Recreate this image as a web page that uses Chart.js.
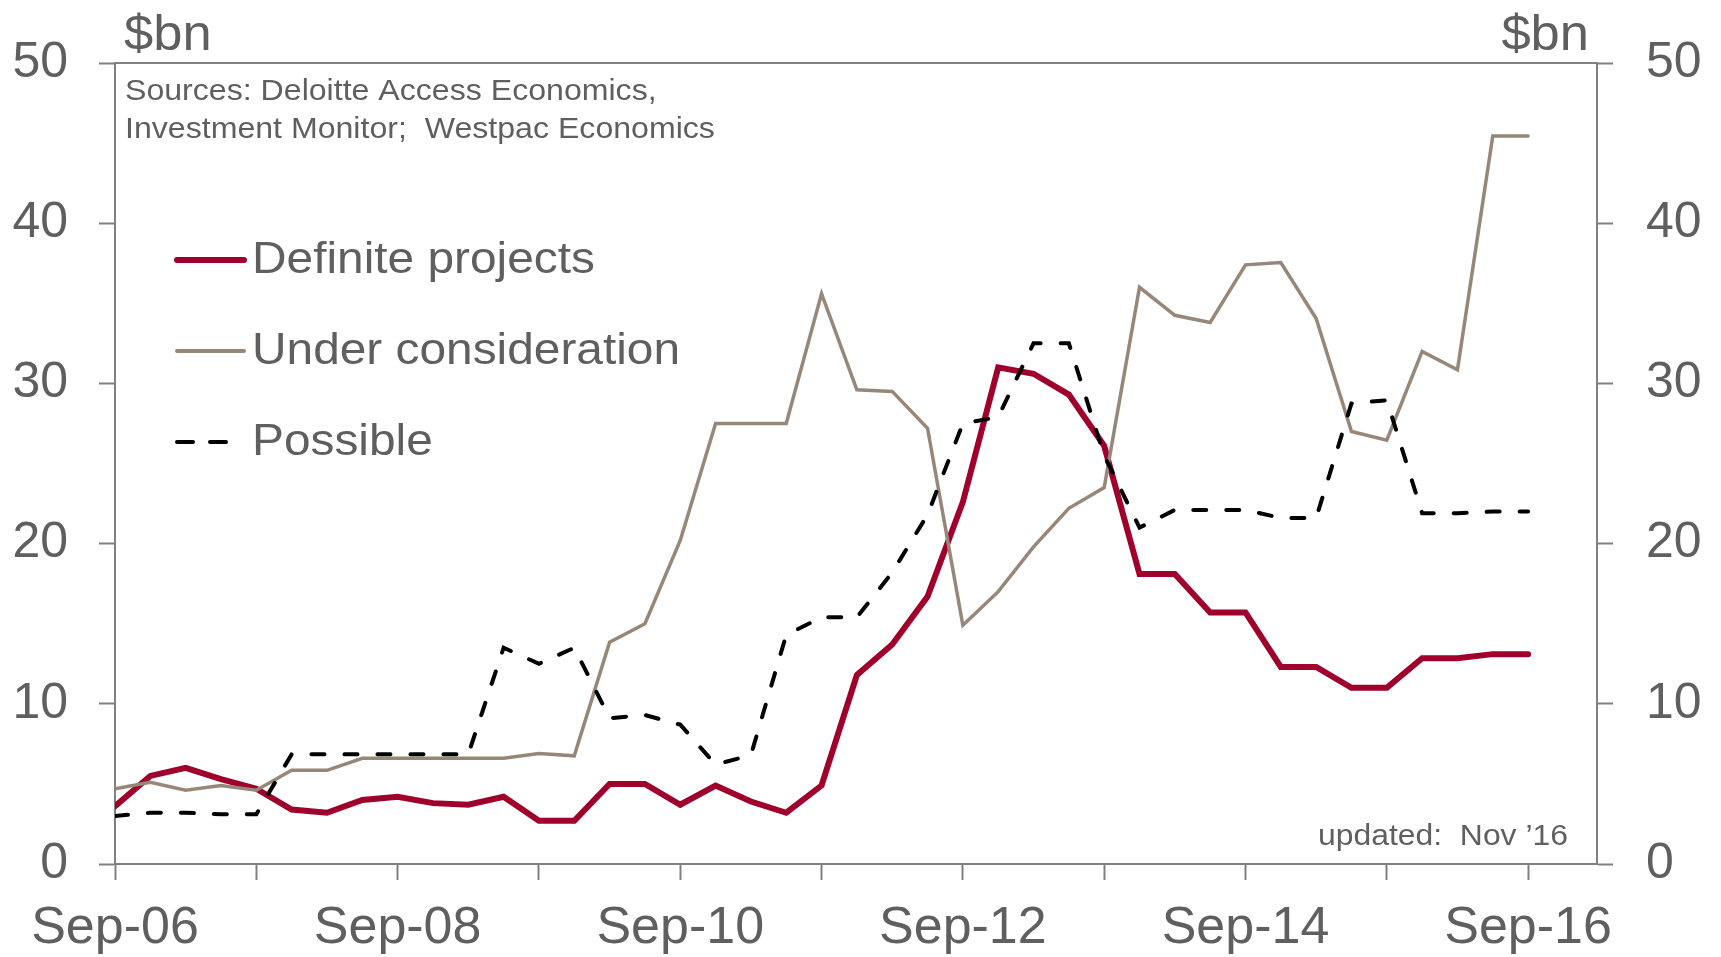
<!DOCTYPE html>
<html lang="en">
<head>
    <meta charset="UTF-8">
    <title>Investment pipeline</title>
    <script src="https://cdn.jsdelivr.net/npm/chart.js@4.4.0/dist/chart.umd.min.js"></script>
    <style>
        body { margin: 0; background: #fff; }
        .wrapper { width: 1721px; height: 957px; position: relative; }
    </style>
</head>
<body>
    <div class="wrapper">
        <canvas id="myChart"></canvas>
    </div>
    <script>
        // quarterly observations, $bn
        var quarters = ['Sep-06', 'Dec-06', 'Mar-07', 'Jun-07', 'Sep-07', 'Dec-07', 'Mar-08', 'Jun-08',
            'Sep-08', 'Dec-08', 'Mar-09', 'Jun-09', 'Sep-09', 'Dec-09', 'Mar-10', 'Jun-10',
            'Sep-10', 'Dec-10', 'Mar-11', 'Jun-11', 'Sep-11', 'Dec-11', 'Mar-12', 'Jun-12',
            'Sep-12', 'Dec-12', 'Mar-13', 'Jun-13', 'Sep-13', 'Dec-13', 'Mar-14', 'Jun-14',
            'Sep-14', 'Dec-14', 'Mar-15', 'Jun-15', 'Sep-15', 'Dec-15', 'Mar-16', 'Jun-16', 'Sep-16'];

        var definite = [3.6, 5.5, 6.0, 5.3, 4.7, 3.4, 3.2, 4.0, 4.2, 3.8, 3.7, 4.2, 2.7, 2.7, 5.0, 5.0,
            3.7, 4.9, 3.9, 3.2, 4.9, 11.8, 13.7, 16.7, 22.6, 31.0, 30.6, 29.3, 26.1, 18.1, 18.1, 15.7,
            15.7, 12.3, 12.3, 11.0, 11.0, 12.85, 12.85, 13.1, 13.1];

        var underConsideration = [4.7, 5.1, 4.6, 4.9, 4.6, 5.85, 5.85, 6.6, 6.6, 6.6, 6.6, 6.6, 6.9, 6.75, 13.85, 15.0,
            20.2, 27.5, 27.5, 27.5, 35.6, 29.6, 29.5, 27.2, 14.9, 17.0, 19.8, 22.2, 23.5, 36.0, 34.25, 33.8,
            37.4, 37.55, 34.05, 27.0, 26.45, 32.0, 30.85, 45.45, 45.45];

        var possible = [3.0, 3.2, 3.2, 3.1, 3.1, 6.85, 6.85, 6.85, 6.85, 6.85, 6.85, 13.5, 12.5, 13.5, 9.1, 9.3,
            8.7, 6.2, 6.8, 14.3, 15.4, 15.4, 18.2, 21.8, 27.5, 27.9, 32.5, 32.5, 25.5, 21.0, 22.1, 22.1,
            22.1, 21.6, 21.6, 28.75, 28.95, 21.9, 21.9, 22.0, 22.0];

        var yTicks = [0, 10, 20, 30, 40, 50];
        var seriesNames = ['Definite projects', 'Under consideration', 'Possible'];

        var RED = '#a0002c';
        var TAN = '#978779';
        var AXIS = '#808080';
        var TEXT = '#5f5f5f';
        var FONT = '"Liberation Sans", Arial, sans-serif';

        function points(values) {
            return values.map(function(v, i) { return {x: i, y: v}; });
        }

        // text drawn slightly widened, anchored at x
        function wideText(ctx, str, x, y, sx, align) {
            ctx.save();
            ctx.translate(x, y);
            ctx.scale(sx, 1);
            ctx.textAlign = align || 'left';
            ctx.fillText(str, 0, 0);
            ctx.restore();
        }

        // sources, units, update note and the in-plot legend
        var annotations = {
            id: 'annotations',
            afterDraw: function(chart) {
                var ctx = chart.ctx;
                var area = chart.chartArea;
                ctx.save();

                // frame line along the top of the plot
                ctx.strokeStyle = AXIS;
                ctx.lineWidth = 2;
                ctx.beginPath();
                ctx.moveTo(area.left, area.top);
                ctx.lineTo(area.right, area.top);
                ctx.stroke();

                ctx.fillStyle = TEXT;
                ctx.textBaseline = 'alphabetic';
                ctx.font = '50px ' + FONT;
                wideText(ctx, '$bn', 124, 50, 1.05, 'left');
                wideText(ctx, '$bn', 1589, 50, 1.05, 'right');

                ctx.font = '30px ' + FONT;
                wideText(ctx, 'Sources: Deloitte Access Economics,', 125, 100, 1.07);
                wideText(ctx, 'Investment Monitor;  Westpac Economics', 125, 138, 1.07);

                ctx.font = '29px ' + FONT;
                wideText(ctx, 'updated:  Nov \u201916', 1568, 845, 1.1, 'right');

                // legend
                var rows = [
                    {y: 260, color: RED, width: 6, dash: []},
                    {y: 351, color: TAN, width: 4, dash: []},
                    {y: 442, color: '#000', width: 4, dash: [16, 17]}
                ];
                ctx.textBaseline = 'middle';
                ctx.font = '44px ' + FONT;
                rows.forEach(function(r, i) {
                    ctx.strokeStyle = r.color;
                    ctx.lineWidth = r.width;
                    ctx.lineCap = 'round';
                    ctx.setLineDash(r.dash);
                    ctx.beginPath();
                    ctx.moveTo(177, r.y);
                    ctx.lineTo(i === 2 ? 227 : 244, r.y);
                    ctx.stroke();
                    ctx.setLineDash([]);
                    wideText(ctx, seriesNames[i], 252, r.y + 1, 1.087);
                });
                ctx.restore();
            }
        };

        var ctx = document.getElementById('myChart').getContext('2d');
        var chart = new Chart(ctx, {
            type: 'line',
            data: {
                datasets: [
                    {
                        label: seriesNames[0],
                        data: points(definite),
                        borderColor: RED,
                        borderWidth: 6,
                        borderCapStyle: 'round',
                        order: 3
                    },
                    {
                        label: seriesNames[1],
                        data: points(underConsideration),
                        borderColor: TAN,
                        borderWidth: 3.5,
                        borderCapStyle: 'round',
                        order: 2
                    },
                    {
                        label: seriesNames[2],
                        data: points(possible),
                        borderColor: '#000',
                        borderWidth: 4,
                        borderDash: [13, 20],
                        borderCapStyle: 'round',
                        order: 1
                    }
                ]
            },
            options: {
                responsive: true,
                maintainAspectRatio: false,
                animation: false,
                layout: {padding: {top: 62, left: 0, right: 0, bottom: 0}},
                elements: {
                    point: {radius: 0},
                    line: {tension: 0, fill: false}
                },
                plugins: {
                    legend: {display: false},
                    tooltip: {enabled: false}
                },
                scales: {
                    x: {
                        type: 'linear',
                        min: 0,
                        max: 41.95,
                        afterBuildTicks: function(scale) {
                            var t = [];
                            for (var i = 0; i < quarters.length; i += 4) t.push({value: i});
                            scale.ticks = t;
                        },
                        afterFit: function(scale) { scale.height = 93; },
                        grid: {
                            drawOnChartArea: false,
                            tickLength: 16,
                            tickWidth: 2,
                            color: AXIS
                        },
                        border: {color: AXIS, width: 2},
                        ticks: {
                            autoSkip: false,
                            maxRotation: 0,
                            padding: 17,
                            color: TEXT,
                            font: {family: FONT, size: 52},
                            callback: function(v) {
                                return v % 8 === 0 ? quarters[v] : '';
                            }
                        }
                    },
                    y: {
                        position: 'left',
                        min: 0,
                        max: 50,
                        afterBuildTicks: function(scale) {
                            scale.ticks = yTicks.map(function(v) { return {value: v}; });
                        },
                        afterFit: function(scale) { scale.width = 115; },
                        grid: {
                            drawOnChartArea: false,
                            tickLength: 16,
                            tickWidth: 2,
                            color: AXIS
                        },
                        border: {color: AXIS, width: 2},
                        ticks: {
                            padding: 31,
                            color: TEXT,
                            font: {family: FONT, size: 50}
                        }
                    },
                    y2: {
                        position: 'right',
                        min: 0,
                        max: 50,
                        afterBuildTicks: function(scale) {
                            scale.ticks = yTicks.map(function(v) { return {value: v}; });
                        },
                        afterFit: function(scale) { scale.width = 124; },
                        grid: {
                            drawOnChartArea: false,
                            tickLength: 16,
                            tickWidth: 2,
                            color: AXIS
                        },
                        border: {color: AXIS, width: 2},
                        ticks: {
                            padding: 33,
                            color: TEXT,
                            font: {family: FONT, size: 50}
                        }
                    }
                }
            },
            plugins: [annotations]
        });
    </script>
</body>
</html>
